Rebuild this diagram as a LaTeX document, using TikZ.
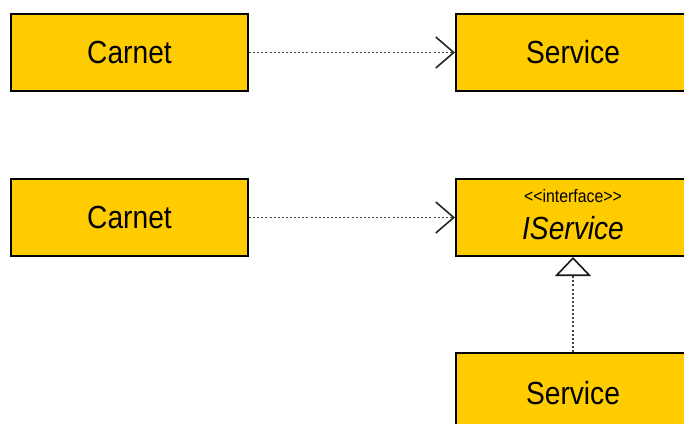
\documentclass[tikz,border=0pt]{standalone}
\usepackage{fontspec}
\setmainfont{Liberation Sans}[FakeStretch=0.88]
\usetikzlibrary{arrows.meta}
\definecolor{classfill}{HTML}{FFCC00}
\begin{document}
\begin{tikzpicture}[x=1pt,y=-1pt,
  classbox/.style={draw=black, line width=2pt, fill=classfill,
    minimum width=#1, minimum height=77pt, inner sep=0pt, anchor=north west},
  classbox/.default=237pt,
  classname/.style={font=\fontsize{32}{35}\selectfont, inner sep=0pt},
  stereo/.style={font=\fontsize{18}{20}\selectfont, inner sep=0pt},
  depline/.style={line width=1.8pt, draw=black!75, dash pattern=on 2pt off 2.1pt,
    -{Straight Barb[length=18pt,width=31pt,line width=1.6pt,color=black!85]}},
  realline/.style={line width=1.8pt, draw=black!75, dash pattern=on 2pt off 2.1pt,
    -{Triangle[open,length=19pt,width=36pt,line width=1.6pt,color=black!90,fill=white]}}
]
\useasboundingbox (0,0) rectangle (684,423);
\clip (0,0) rectangle (684,423);

% plain dependency
\node[classbox] (carnetA) at (10,13) {};
\node[classbox=234pt] (serviceA) at (455,13) {};
\node[classname] at (carnetA.center) {Carnet};
\node[classname] at (serviceA.center) {Service};

% dependency on an interface with its realisation
\node[classbox] (carnetB) at (10,178) {};
\node[classbox=234pt] (iservice) at (455,178) {};
\node[classbox=234pt] (serviceB) at (455,352) {};
\node[classname] at (carnetB.center) {Carnet};
\node[stereo] (stereotype) at ([yshift=21.5pt]iservice.center) {<{}<interface>{}>};
\node[classname, font=\fontsize{32}{35}\selectfont\itshape] (iname) at ([yshift=-10.5pt]iservice.center) {IService};
\node[classname] at ([yshift=-2pt]serviceB.center) {Service};

\draw[depline] (carnetA.east) -- (serviceA.west);
\draw[depline] (carnetB.east) -- (iservice.west);
\draw[realline] (serviceB.north) -- (iservice.south);
\end{tikzpicture}
\end{document}
